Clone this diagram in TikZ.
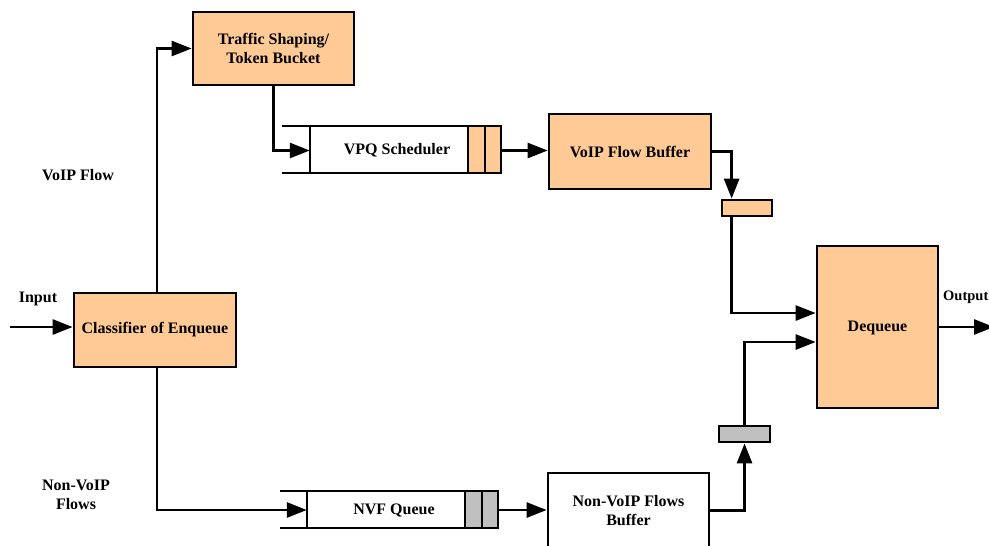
\documentclass[tikz,border=0pt]{standalone}
\usepackage{fontspec}
\setmainfont{Liberation Serif}
\usetikzlibrary{arrows.meta,calc}
\definecolor{peach}{HTML}{FFCA96}
\definecolor{cellgray}{HTML}{C0C0C0}
\begin{document}
\begin{tikzpicture}[x=1pt,y=-1pt,
  every node/.style={font=\fontsize{16}{19}\selectfont\bfseries, align=center, inner sep=0pt},
  blk/.style={draw=black, line width=2.8pt, fill=peach},
  wblk/.style={draw=black, line width=2.8pt, fill=white},
  conn/.style={line width=2.8pt, -{Triangle[length=20pt,width=15pt]}},
  qline/.style={line width=2.8pt},
  cellp/.style={draw=black, line width=2.8pt, fill=peach},
  cellg/.style={draw=black, line width=2.8pt, fill=cellgray}]
\useasboundingbox (0,0) rectangle (989,546);

% boxes
\node[blk, minimum width=161pt, minimum height=73pt] (ts) at (273.5,48.5) {Traffic Shaping/\\Token Bucket};
\node[blk, minimum width=162pt, minimum height=75pt] (vfb) at (630,151.5) {VoIP Flow Buffer};
\node[blk, minimum width=162pt, minimum height=74pt] (cls) at (155,330) {Classifier of Enqueue};
\node[blk, minimum width=121pt, minimum height=162pt] (deq) at (877.5,327) {};
\node (deqt) at (877.5,328) {Dequeue};
\node[wblk, minimum width=161pt, minimum height=75pt] (nvb) at (628.5,510.5) {Non-VoIP Flows\\Buffer};

% small buffers
\node[cellp, minimum width=50pt, minimum height=16pt] (sp) at (747,208) {};
\node[cellg, minimum width=51pt, minimum height=16pt] (gr) at (744.5,434) {};

% VPQ scheduler queue
\node[minimum width=191pt, minimum height=47pt] (vpq) at (405.5,150.5) {};
\draw[qline] (282,126) -- (501,126);
\draw[qline] (282,173) -- (501,173);
\draw[qline] (310,126) -- (310,173);
\draw[cellp] (468,126) rectangle (485,173);
\draw[cellp] (485,126) rectangle (501,173);
\node (vpqt) at (397,150) {VPQ Scheduler};

% NVF queue
\node[minimum width=191pt, minimum height=37pt] (nvq) at (402.5,510) {};
\draw[qline] (280,491) -- (498,491);
\draw[qline] (280,528) -- (498,528);
\draw[qline] (307,491) -- (307,528);
\draw[cellg] (465,491) rectangle (482,528);
\draw[cellg] (482,491) rectangle (498,528);
\node (nvqt) at (394,510) {NVF Queue};

% labels
\node (lin) at (38,299) {Input};
\node[anchor=west, font=\fontsize{14.5}{17}\selectfont\bfseries] (lout) at (943,297) {Output};
\node (lvoip) at (78,175) {VoIP Flow};
\node (lnon) at (76,495) {Non-VoIP\\Flows};

% connectors
\coordinate (inp) at (10,327);
\coordinate (outp) at (994,327);
\draw[conn] (inp) -- (inp -| cls.west);
\draw[conn] ([xshift=2pt]cls.north) |- (ts.west);
\draw[conn] (ts.south) |- (vpq.west);
\draw[conn] (vpq.east) -- (vpq.east -| vfb.west);
\draw[conn] (vfb.east) -| ([xshift=11pt]sp.north west);
\draw[conn] ([xshift=11pt]sp.south west) |- ([yshift=14pt]deq.west);
\draw[conn] (gr.north) |- ([yshift=-15pt]deq.west);
\draw[conn] (nvb.east) -| (gr.south);
\draw[conn] ([xshift=2pt]cls.south) |- (nvq.west);
\draw[conn] (nvq.east) -- (nvq.east -| nvb.west);
\draw[conn] (deq.east) -- (outp);
\end{tikzpicture}
\end{document}
